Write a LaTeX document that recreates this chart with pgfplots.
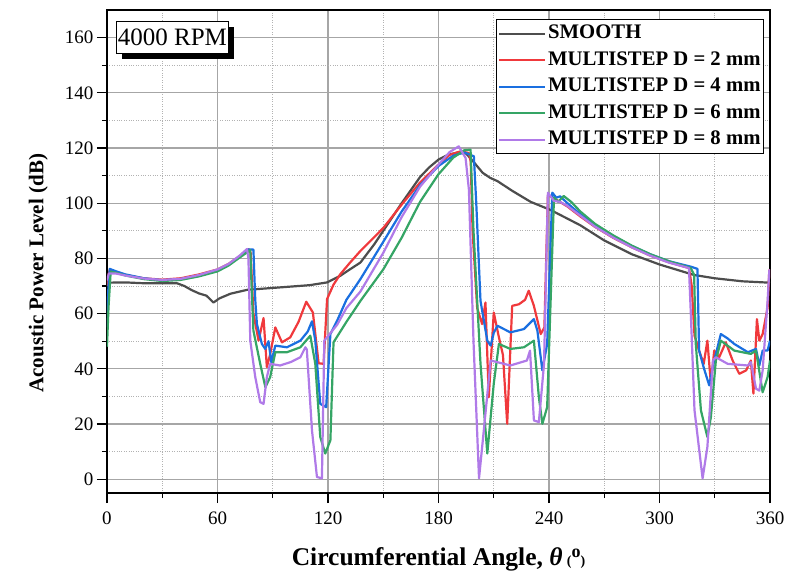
\documentclass[border=0pt]{standalone}
\usepackage{fontspec}
\setmainfont{Liberation Serif}
\usepackage{pgfplots}
\pgfplotsset{compat=1.18}
\usetikzlibrary{shadows}
\definecolor{cSmooth}{HTML}{4D4D4D}
\definecolor{cRed}{HTML}{F0393C}
\definecolor{cBlue}{HTML}{1A6FE0}
\definecolor{cGreen}{HTML}{35A565}
\definecolor{cPurple}{HTML}{B07AE8}
\begin{document}
\begin{tikzpicture}
\begin{axis}[
  scale only axis, width=663pt, height=483pt,
  xmin=0, xmax=360, ymin=-5, ymax=170,
  xtick={0,60,...,360}, ytick={0,20,...,160},
  minor x tick num=1, minor y tick num=1,
  xtick pos=left, ytick pos=left,
  tick align=outside, major tick length=10pt, minor tick length=5pt,
  tick style={black, line width=1.2pt},
  grid=both,
  major grid style={black!35, line width=1.3pt},
  minor grid style={black!30, dotted, line width=1pt},
  axis line style={black, line width=1.5pt},
  ticklabel style={font=\fontsize{19}{19}\selectfont},
  xticklabel style={yshift=-5pt},
  /pgf/number format/assume math mode=true,
  xlabel={Circumferential Angle, {\itshape θ}\,{\fontsize{14}{14}\selectfont(}\raisebox{8pt}{\fontsize{18}{18}\selectfont o}{\fontsize{14}{14}\selectfont)}},
  ylabel={Acoustic Power Level (dB)},
  xlabel style={font=\fontsize{25.5}{25.5}\selectfont\bfseries, at={(axis description cs:0.5,-0.1505)}, anchor=base},
  ylabel style={font=\fontsize{21}{21}\selectfont\bfseries, at={(axis description cs:-0.096,0.455)}, anchor=base},
  legend style={at={(1,1)}, anchor=north east, xshift=-6pt, yshift=-9pt,
    draw=black, line width=1pt, fill=white, inner sep=1pt,
    font=\fontsize{20.7}{20.7}\selectfont\bfseries,
    nodes={inner ysep=2pt, text height=16.5pt, text depth=6pt}, row sep=0pt},
  legend cell align=left,
  legend image code/.code={\draw[#1, line width=2.2pt] (0pt,0pt) -- (46pt,0pt);},
  every axis plot/.append style={line width=2.2pt, line join=round},
]
\addplot[cSmooth] coordinates {
(0,71.2)(10,71.3)(20,71.0)(30,71.0)(38,71.0)(42,70.0)(46,68.5)(50,67.3)(54,66.5)(57.8,64.0)(61,65.5)(67,67.2)(76,68.6)(88,69.2)(100,69.8)(110,70.3)(119.5,71.3)(126.7,73.7)(130,75.2)(137.6,78.5)(145,85)(150,90)(160,100)(170,109.5)(175,113)(180,115.8)(185,117.5)(190,118.3)(195,118)(199,115)(204,111)(208,109.2)(212,108)(220,104.5)(230,100.5)(241,97.5)(257,92)(270,86.5)(285,81.5)(300,77.8)(318.7,74)(330,72.8)(345,71.7)(360,71.2)
};
\addlegendentry{SMOOTH}
\addplot[cRed] coordinates {
(0,70)(0.8,74)(1.5,75.8)(5,75)(10,74)(20,72.8)(30,72.3)(40,72.8)(50,74.2)(60,76)(66,78)(72,80.8)(77,83.3)(78,82)(79.5,60)(82.3,50.2)(85,58.4)(86.8,40.6)(88.5,45)(91.4,55)(95,49.6)(99.5,51.4)(104,57)(108.2,64.3)(111.8,60.4)(114.9,42)(117.6,41.8)(119.5,65.3)(123,70.5)(126.7,74.3)(132,78.5)(137.6,82.7)(150,91)(160,99.5)(170,107.5)(180,114)(186,117.5)(192,118.8)(196.5,118.2)(197.5,115)(198.5,90)(201,62)(203.7,56.2)(205.5,64)(207.3,29.7)(210,60.4)(212.8,51.4)(215,45)(217.3,20.1)(220,62.8)(223.7,63.4)(227,65)(229,68.3)(231.8,62.8)(235.5,52.6)(237.5,55)(239.4,103)(243.6,101.4)(250,98.8)(257,95.2)(265,91.4)(275,87.4)(285,84)(295,81)(305,78.6)(316,76.5)(317.5,70)(319,52)(321.5,46.6)(324,41.8)(326,50.2)(327.9,34.6)(329.7,46.6)(332.4,44.2)(336,49.6)(339.7,43)(343.3,38.2)(347,39.4)(349.6,43)(351,31)(352.9,58)(354.2,50.2)(356,52.6)(358.7,62.2)(359.6,75.5)(360,76)
};
\addlegendentry{MULTISTEP D = 2 mm}
\addplot[cBlue] coordinates {
(0,55)(0.8,70)(1.5,76.2)(5,75.3)(10,74.2)(20,72.8)(30,72.1)(40,72.5)(50,73.8)(60,75.6)(66,77.7)(72,80.5)(76.7,83.2)(79.5,83.2)(80.5,65)(81.4,56.2)(84.1,49)(85.9,47.2)(87.7,50)(89.2,42.4)(91.4,48.4)(97.7,47.8)(105,50.2)(109,53.5)(111.3,57.2)(113.1,50.2)(115.8,27.3)(119,26.1)(121.3,52.6)(125,57.5)(130,65)(137.6,72.5)(150,86)(160,97)(170,106.5)(180,113.5)(188,117.2)(194,118.4)(199.2,117)(200.5,100)(202.8,64.6)(206.5,50.2)(208.3,48.4)(210,53)(212,55.6)(219,53.2)(226.4,54.4)(231.8,58)(233.7,53.8)(236.4,39.4)(239,49)(241.8,103.8)(244,102)(246,102.5)(250,100)(257,96)(265,92)(275,88)(285,84.5)(295,81.5)(305,79)(317,77)(320.6,76.2)(321.5,46.6)(324.2,40)(327,34)(329.7,43)(333.3,52.6)(337,51)(340.6,49)(348,46)(352.4,47.2)(354.2,41.2)(356,46.6)(358.7,46.6)(360,50.2)
};
\addlegendentry{MULTISTEP D = 4 mm}
\addplot[cGreen] coordinates {
(0,48)(0.8,62)(2,75.2)(5,74.8)(10,73.8)(20,72.5)(30,71.8)(40,72.2)(50,73.5)(60,75.3)(66,77.4)(72,80.3)(77.8,83)(78.5,70)(79.5,53.8)(83.2,41.8)(86,33.3)(88.6,37)(91.4,46)(97.7,46)(105,47.8)(110.4,52)(113.1,41.8)(115.8,15.3)(118.5,9.3)(121.3,14.1)(123,49.6)(130,57)(137.6,64.6)(150,76)(160,87.5)(170,100.5)(180,110.5)(188,116.5)(194,119.2)(197.4,119.4)(199,90)(202.8,41.9)(206.5,9.3)(210,34.6)(212.8,49)(219,47.2)(226.4,47.8)(231.8,50.2)(234.5,29.7)(236.4,20.1)(239,26.1)(242.7,102)(245,100.5)(248,102.6)(252,100.5)(257,97)(265,92.5)(275,88.3)(285,84.6)(295,81.5)(305,79)(317,76.5)(318.8,74)(319.7,49)(322.5,24.9)(326,15.3)(327.9,22.5)(330.6,43)(333.3,50.2)(340.6,46.6)(349.6,45.4)(352.4,46.6)(356,31.5)(358.7,37)(360,43)
};
\addlegendentry{MULTISTEP D = 6 mm}
\addplot[cPurple] coordinates {
(0,72)(1,74.5)(5,74.5)(10,73.8)(20,72.7)(30,72.2)(40,72.6)(50,74)(60,76)(66,78)(72,81)(76,83.4)(76.8,80)(77.8,50.2)(80.5,37)(83.2,27.9)(85,27.3)(86.8,37)(88.6,41.8)(94,41.2)(100,42.5)(105,44.2)(107.7,47.8)(108.5,47)(111.3,17.7)(114,0.8)(116.7,0.3)(118,50.2)(125,56)(130,62)(137.6,68)(150,82)(160,95)(170,106)(180,114)(186,118.5)(191,120.6)(194.7,116.4)(196.5,105)(199,50)(202,0.3)(204.6,17.7)(208.3,43)(212,42.4)(219,41.2)(228,43)(229.7,46.6)(231.8,21.3)(234.5,20.7)(237.3,41.8)(239.4,103.8)(242.7,100.8)(246,100.5)(250,99)(257,95.5)(265,91.5)(275,87.5)(285,84)(295,81)(305,78.5)(316,76.5)(317,60)(319,25)(323.4,0.3)(326,11.7)(329,43)(330.6,44.2)(337,41.8)(348,41.2)(349.6,42.4)(352.4,32.8)(354.2,32.1)(356,39.4)(358.7,64.6)(359.6,75.5)(360,76)
};
\addlegendentry{MULTISTEP D = 8 mm}
\node[draw=black, fill=white, line width=0.8pt, anchor=north west,
  inner sep=0pt, minimum width=112pt, minimum height=32pt,
  font=\fontsize{25}{25}\selectfont,
  drop shadow={shadow xshift=6pt, shadow yshift=-6pt, fill=black, opacity=1}]
  at ([xshift=9pt, yshift=-11pt]rel axis cs:0,1) {4000 RPM};
\end{axis}
\pgfresetboundingbox
\path ([shift={(-107pt,-83pt)}]current axis.south west) rectangle ([shift={(18pt,10pt)}]current axis.north east);
\end{tikzpicture}
\end{document}
